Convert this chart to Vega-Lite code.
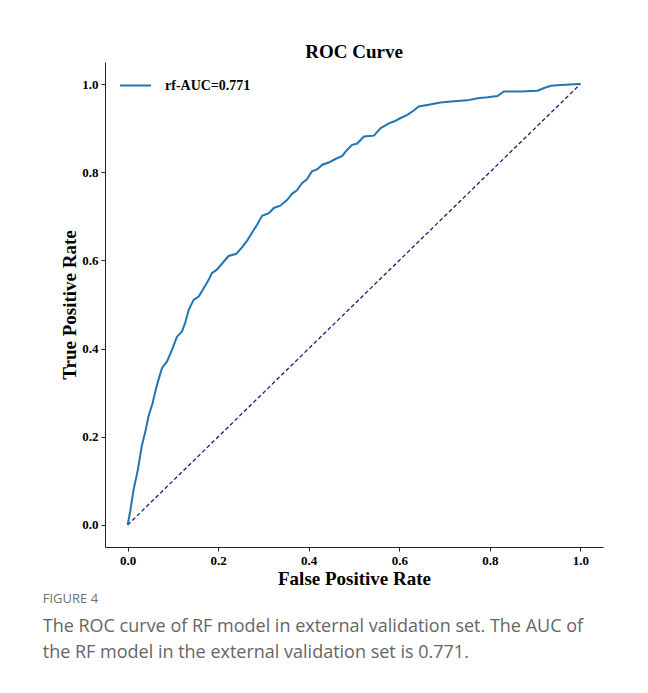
{
  "$schema": "https://vega.github.io/schema/vega-lite/v6.json",
  "background": "white",
  "padding": {"left": 42, "top": 43, "right": 5, "bottom": 5},
  "config": {"view": {"stroke": null}, "font": "Liberation Serif"},
  "title": {
    "text": "FIGURE 4",
    "subtitle": ["The ROC curve of RF model in external validation set. The AUC of", "the RF model in the external validation set is 0.771."],
    "orient": "bottom",
    "anchor": "start",
    "frame": "bounds",
    "dx": -18,
    "font": "Open Sans",
    "fontSize": 13,
    "fontWeight": "normal",
    "color": "#707070",
    "subtitleFont": "Open Sans",
    "subtitleFontSize": 18,
    "subtitleColor": "#666666",
    "subtitleLineHeight": 26,
    "subtitlePadding": 12,
    "offset": 5
  },
  "datasets": {
    "roc": [
      {"fpr": 0, "tpr": 0}, {"fpr": 0.0055, "tpr": 0.03}, {"fpr": 0.013, "tpr": 0.079}, {"fpr": 0.0225, "tpr": 0.125},
      {"fpr": 0.031, "tpr": 0.178}, {"fpr": 0.040, "tpr": 0.216}, {"fpr": 0.046, "tpr": 0.246}, {"fpr": 0.055, "tpr": 0.276},
      {"fpr": 0.062, "tpr": 0.306}, {"fpr": 0.068, "tpr": 0.329}, {"fpr": 0.076, "tpr": 0.356}, {"fpr": 0.087, "tpr": 0.371},
      {"fpr": 0.098, "tpr": 0.397}, {"fpr": 0.109, "tpr": 0.427}, {"fpr": 0.120, "tpr": 0.439}, {"fpr": 0.127, "tpr": 0.458},
      {"fpr": 0.135, "tpr": 0.488}, {"fpr": 0.146, "tpr": 0.511}, {"fpr": 0.157, "tpr": 0.518}, {"fpr": 0.168, "tpr": 0.537},
      {"fpr": 0.179, "tpr": 0.556}, {"fpr": 0.186, "tpr": 0.571}, {"fpr": 0.197, "tpr": 0.579}, {"fpr": 0.212, "tpr": 0.597},
      {"fpr": 0.223, "tpr": 0.610}, {"fpr": 0.240, "tpr": 0.615}, {"fpr": 0.253, "tpr": 0.630}, {"fpr": 0.264, "tpr": 0.645},
      {"fpr": 0.273, "tpr": 0.660}, {"fpr": 0.286, "tpr": 0.681}, {"fpr": 0.297, "tpr": 0.701}, {"fpr": 0.312, "tpr": 0.707},
      {"fpr": 0.323, "tpr": 0.719}, {"fpr": 0.337, "tpr": 0.724}, {"fpr": 0.352, "tpr": 0.737}, {"fpr": 0.363, "tpr": 0.751},
      {"fpr": 0.374, "tpr": 0.759}, {"fpr": 0.385, "tpr": 0.775}, {"fpr": 0.396, "tpr": 0.784}, {"fpr": 0.407, "tpr": 0.802},
      {"fpr": 0.419, "tpr": 0.807}, {"fpr": 0.430, "tpr": 0.817}, {"fpr": 0.444, "tpr": 0.822}, {"fpr": 0.459, "tpr": 0.830},
      {"fpr": 0.474, "tpr": 0.837}, {"fpr": 0.485, "tpr": 0.851}, {"fpr": 0.496, "tpr": 0.862}, {"fpr": 0.507, "tpr": 0.865},
      {"fpr": 0.522, "tpr": 0.881}, {"fpr": 0.544, "tpr": 0.883}, {"fpr": 0.559, "tpr": 0.900}, {"fpr": 0.577, "tpr": 0.911},
      {"fpr": 0.588, "tpr": 0.915}, {"fpr": 0.603, "tpr": 0.923}, {"fpr": 0.618, "tpr": 0.930}, {"fpr": 0.632, "tpr": 0.940},
      {"fpr": 0.643, "tpr": 0.949}, {"fpr": 0.665, "tpr": 0.953}, {"fpr": 0.691, "tpr": 0.958}, {"fpr": 0.721, "tpr": 0.961},
      {"fpr": 0.750, "tpr": 0.963}, {"fpr": 0.773, "tpr": 0.968}, {"fpr": 0.795, "tpr": 0.970}, {"fpr": 0.817, "tpr": 0.973},
      {"fpr": 0.831, "tpr": 0.983}, {"fpr": 0.868, "tpr": 0.983}, {"fpr": 0.905, "tpr": 0.985}, {"fpr": 0.920, "tpr": 0.991},
      {"fpr": 0.935, "tpr": 0.996}, {"fpr": 0.957, "tpr": 0.998}, {"fpr": 0.997, "tpr": 1.0}, {"fpr": 1, "tpr": 1}
    ],
    "diag": [{"fpr": 0, "tpr": 0}, {"fpr": 1, "tpr": 1}]
  },
  "vconcat": [
    {
      "width": 498,
      "height": 485,
      "title": {"text": "ROC Curve", "font": "Liberation Serif", "fontSize": 19, "fontWeight": "bold", "color": "#000000", "offset": 0},
      "layer": [
        {
          "data": {"name": "diag"},
          "mark": {"type": "line", "color": "#1c1c78", "strokeWidth": 1.3, "strokeDash": [4, 2.5]},
          "encoding": {
            "x": {"field": "fpr", "type": "quantitative", "scale": {"domain": [-0.05, 1.05], "nice": false, "zero": false}},
            "y": {"field": "tpr", "type": "quantitative", "scale": {"domain": [-0.05, 1.05], "nice": false, "zero": false}}
          }
        },
        {
          "data": {"name": "roc"},
          "transform": [{"calculate": "'rf-AUC=0.771'", "as": "model"}],
          "mark": {"type": "line", "strokeWidth": 2},
          "encoding": {
            "x": {
              "field": "fpr", "type": "quantitative",
              "scale": {"domain": [-0.05, 1.05], "nice": false, "zero": false},
              "axis": {"values": [0, 0.2, 0.4, 0.6, 0.8, 1.0], "format": ".1f", "grid": false, "title": "False Positive Rate",
                "labelFont": "Liberation Serif", "labelFontWeight": "bold", "labelFontSize": 13, "labelColor": "#000",
                "titleFont": "Liberation Serif", "titleFontWeight": "bold", "titleFontSize": 19, "titleColor": "#000", "titlePadding": 2,
                "domainColor": "#222", "tickColor": "#222", "tickSize": 4, "labelPadding": 3}
            },
            "y": {
              "field": "tpr", "type": "quantitative",
              "scale": {"domain": [-0.05, 1.05], "nice": false, "zero": false},
              "axis": {"values": [0, 0.2, 0.4, 0.6, 0.8, 1.0], "format": ".1f", "grid": false, "title": "True Positive Rate",
                "labelFont": "Liberation Serif", "labelFontWeight": "bold", "labelFontSize": 13, "labelColor": "#000",
                "titleFont": "Liberation Serif", "titleFontWeight": "bold", "titleFontSize": 19, "titleColor": "#000", "titlePadding": 2,
                "domainColor": "#222", "tickColor": "#222", "tickSize": 4, "labelPadding": 3}
            },
            "color": {
              "field": "model", "type": "nominal",
              "scale": {"range": ["#2274b3"]},
              "legend": {"title": null, "orient": "none", "legendX": 14, "legendY": 7, "symbolType": "stroke", "symbolSize": 961,
                "symbolStrokeWidth": 2, "labelFont": "Liberation Serif", "labelFontWeight": "bold", "labelFontSize": 14, "labelColor": "#000",
                "labelOffset": 13, "padding": 0}
            }
          }
        }
      ]
    }
  ]
}
